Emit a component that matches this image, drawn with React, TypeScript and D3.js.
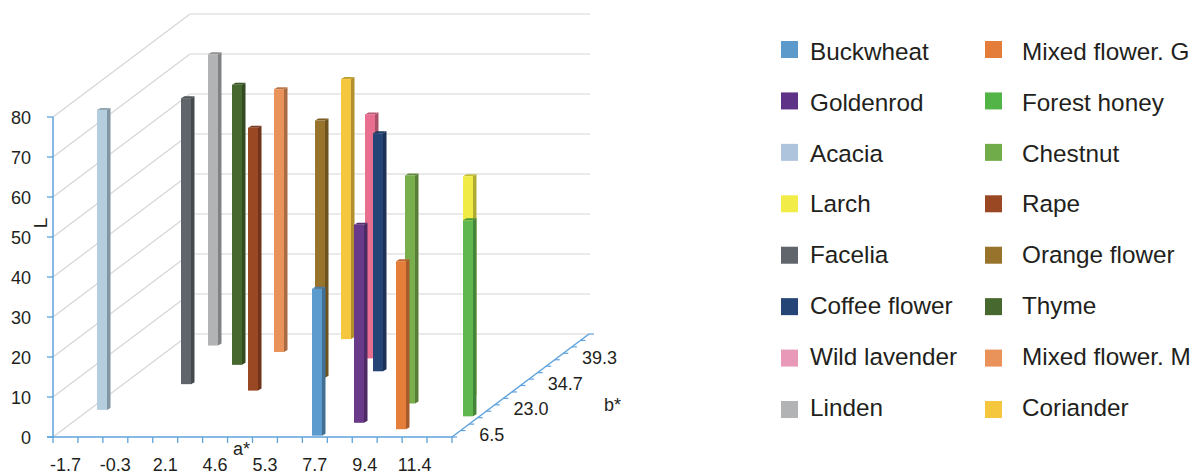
import React from "react";
import * as d3 from "d3";

// Honey colour coordinates: each variety sits in one a* bin and one b* bin, height is L.
const seriesNames = [
  "Buckwheat", "Goldenrod", "Acacia", "Larch", "Facelia", "Coffee flower", "Wild lavender", "Linden",
  "Mixed flower. G", "Forest honey", "Chestnut", "Rape", "Orange flower", "Thyme", "Mixed flower. M", "Coriander",
];
const aBinIndex = [10, 11, 0, 14, 2, 9, 8, 1, 13, 15, 12, 5, 7, 3, 4, 6];
const bBinIndex = [0, 2, 4, 6, 8, 10, 12, 14, 1, 3, 5, 7, 9, 11, 13, 15];
const lValues = [36.7, 49.5, 75, 55.2, 71.5, 59.5, 61, 72.8, 42, 49, 57, 65.7, 64.3, 70, 65.7, 65];
const aLabels = ["-1.7", "-0.3", "2.1", "4.6", "5.3", "7.7", "9.4", "11.4"];
const bLabels = ["6.5", "23.0", "34.7", "39.3"];
const lTicks = [0, 10, 20, 30, 40, 50, 60, 70, 80];
const BIN_COUNT = 16;

const seriesColors = [
  "#5b9bcd", "#693a8a", "#b5cede", "#f1ec45", "#5f656a", "#254577", "#e86f90", "#b2b3b5",
  "#e67e3b", "#5fb750", "#79ae4d", "#9a4824", "#98732b", "#47682f", "#e9935a", "#f4c73e",
];
const legendColors = [
  "#5c9acb", "#5e3286", "#aec4dc", "#f1ec48", "#5f656a", "#254577", "#e899b8", "#b2b3b5",
  "#e47c3a", "#52b347", "#70ad4a", "#9a4824", "#98732b", "#47682f", "#e9935a", "#f4c73e",
];

const FONT = "'Liberation Sans', Arial, sans-serif";
const AXIS = "#5fa2dc";
const GRID = "#d6d6d6";
const TEXT = "#231f1c";

const originX = 53;
const originY = 437;
const plotWidth = 399;
const depthDx = 137;
const depthDy = -103;
const barW = 10;
const sideDx = 3.5;
const sideDy = -2;

const xBand = d3.scaleBand<number>().domain(d3.range(BIN_COUNT)).range([originX, originX + plotWidth]);
const depth = d3.scaleLinear().domain([0, BIN_COUNT]).range([0, 1]);
const yL = d3.scaleLinear().domain([0, 80]).range([0, -320]);

// Oblique projection of (a position, depth fraction, L) onto the page.
const project = (x: number, d: number, l: number): [number, number] => [
  x + d * depthDx,
  originY + d * depthDy + yL(l),
];

const shade = (c: string, k: number) => d3.color(c)!.darker(k).formatHex();

function Bar({ i }: { i: number }) {
  const color = seriesColors[i];
  const x = xBand(aBinIndex[i])! + (xBand.bandwidth() - barW) / 2 + 0.7;
  const d = depth(bBinIndex[i]) + 0.013;
  const [rawX, by] = project(x, d, 0);
  const [, ty] = project(x, d, lValues[i]);
  // Snap to whole pixels so bars stacked in line keep the same edges.
  const bx = Math.round(rawX);
  const side = d3.path();
  side.moveTo(bx + barW, ty);
  side.lineTo(bx + barW + sideDx, ty + sideDy);
  side.lineTo(bx + barW + sideDx, by + sideDy);
  side.lineTo(bx + barW, by);
  side.closePath();
  const top = d3.path();
  top.moveTo(bx, ty);
  top.lineTo(bx + sideDx, ty + sideDy);
  top.lineTo(bx + barW + sideDx, ty + sideDy);
  top.lineTo(bx + barW, ty);
  top.closePath();
  return (
    <g>
      <path d={side.toString()} fill={shade(color, 0.9)} />
      <path d={top.toString()} fill={shade(color, 0.6)} />
      <rect x={bx} y={ty} width={barW} height={by - ty} fill={color} />
    </g>
  );
}

export default function App() {
  const drawOrder = d3.range(seriesNames.length).sort((p, q) => bBinIndex[q] - bBinIndex[p]);
  const wallX = originX + depthDx;
  const floorRight = originX + plotWidth;
  const xTicks = d3.range(BIN_COUNT + 1).map((k) => originX + (k * plotWidth) / BIN_COUNT);
  const dTicks = d3.range(BIN_COUNT + 1).map((k) => depth(k));

  return (
    <svg
      width={1201}
      height={475}
      style={{ position: "absolute", left: 0, top: 0, background: "#fff" }}
      fontFamily={FONT}
    >
      {/* side and back walls */}
      {lTicks.map((t) => {
        const y = originY + yL(t);
        return (
          <g key={t} stroke={GRID} strokeWidth={1.2} fill="none">
            <line x1={originX} y1={y} x2={wallX} y2={y + depthDy} />
            <line x1={wallX} y1={y + depthDy} x2={590} y2={y + depthDy} />
          </g>
        );
      })}

      {drawOrder.map((i) => (
        <Bar key={seriesNames[i]} i={i} />
      ))}

      {/* L axis */}
      <line x1={originX} y1={originY} x2={originX} y2={originY + yL(80)} stroke={AXIS} strokeWidth={1.5} />
      {lTicks.map((t) => (
        <g key={t}>
          <line x1={originX - 6} x2={originX} y1={originY + yL(t)} y2={originY + yL(t)} stroke={AXIS} strokeWidth={1.3} />
          <text x={31} y={originY + yL(t) + 6.5} fontSize={18} fill={TEXT} textAnchor="end">
            {t}
          </text>
        </g>
      ))}
      <text transform="translate(47,223) rotate(-90)" fontSize={19} fill={TEXT} textAnchor="middle">
        L
      </text>

      {/* a* axis */}
      <line x1={originX - 6} x2={floorRight} y1={originY} y2={originY} stroke={AXIS} strokeWidth={1.5} />
      {xTicks.map((x) => (
        <line key={x} x1={x} x2={x} y1={originY} y2={originY + 6} stroke={AXIS} strokeWidth={1.3} />
      ))}
      {aLabels.map((t, k) => (
        <text key={t} x={xBand(2 * k)! + xBand.bandwidth() / 2} y={471.2} fontSize={18} fill={TEXT} textAnchor="middle">
          {t}
        </text>
      ))}
      <text x={241.5} y={455} fontSize={18} fill={TEXT} textAnchor="middle">
        a*
      </text>

      {/* b* axis */}
      <line
        x1={floorRight}
        y1={originY}
        x2={floorRight + depthDx}
        y2={originY + depthDy}
        stroke={AXIS}
        strokeWidth={1.5}
      />
      {dTicks.map((d) => {
        const x = floorRight + d * depthDx;
        const y = originY + d * depthDy;
        return <line key={d} x1={x} x2={x + 5} y1={y} y2={y} stroke={AXIS} strokeWidth={1.2} />;
      })}
      {bLabels.map((t, k) => {
        const d = (2 * k + 1) / 8;
        return (
          <text
            key={t}
            x={floorRight + d * depthDx + 10}
            y={originY + d * depthDy + 17}
            fontSize={18}
            fill={TEXT}
          >
            {t}
          </text>
        );
      })}
      <text x={612.5} y={411} fontSize={18} fill={TEXT} textAnchor="middle">
        b*
      </text>

      {/* two-column legend */}
      {seriesNames.map((name, i) => {
        const col = i < 8 ? 0 : 1;
        const row = i % 8;
        return (
          <g key={name}>
            <rect x={col ? 985 : 781} y={41 + row * 51.43} width={17} height={17} fill={legendColors[i]} />
            <text x={col ? 1022 : 810} y={60 + row * 50.8} fontSize={24.3} fill={TEXT}>
              {name}
            </text>
          </g>
        );
      })}
    </svg>
  );
}
